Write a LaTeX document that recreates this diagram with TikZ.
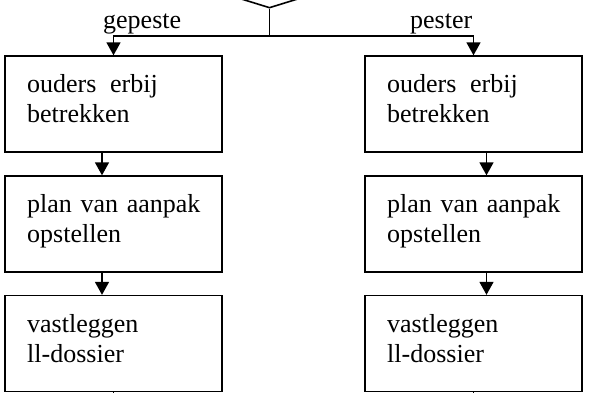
\documentclass[tikz,border=0pt]{standalone}
\usepackage{fontspec}
\setmainfont{Liberation Serif}
\usetikzlibrary{arrows.meta,shapes.geometric}
\begin{document}
\begin{tikzpicture}[x=1pt,y=-1pt,
  box/.style={draw,line width=1.4pt,minimum width=217pt,minimum height=96pt,inner sep=0pt},
  txt/.style={font=\fontsize{26}{30}\selectfont,text width=200pt,align=left,inner sep=0pt,anchor=base west},
  lbl/.style={font=\fontsize{26}{30}\selectfont,inner sep=0pt,anchor=base west},
  conn/.style={line width=1.6pt},
  arr/.style={line width=1.6pt,-{Triangle[width=14pt,length=13pt]}}]
\useasboundingbox (0,0) rectangle (589,392);
% decision shape (cropped at top)
\node[draw,diamond,line width=1.6pt,aspect=3.2,minimum width=180pt,minimum height=56pt,inner sep=0pt] (d) at (269.5,-20) {};
\coordinate (j) at (269.5,36);
% boxes
\node[box] (L1) at (113.5,104) {};
\node[box] (L2) at (113.5,224) {};
\node[box] (L3) at (113.5,343.5) {};
\node[box] (R1) at (473.5,104) {};
\node[box] (R2) at (473.5,224) {};
\node[box] (R3) at (473.5,343.5) {};
% texts
\node[txt] (tL1) at (27,92) {ouders\hspace{5pt} erbij\\betrekken};
\node[txt] (tL2) at (27,212) {plan van aanpak\\opstellen};
\node[txt] (tL3) at (27,332) {vastleggen\\ll-dossier};
\node[txt] (tR1) at (387,92) {ouders\hspace{5pt} erbij\\betrekken};
\node[txt] (tR2) at (387,212) {plan van aanpak\\opstellen};
\node[txt] (tR3) at (387,332) {vastleggen\\ll-dossier};
% labels
\node[lbl] (gp) at (103,28) {gepeste};
\node[lbl] (ps) at (410,28) {pester};
% connectors
\draw[conn] (d.south) -- (j);
\draw[arr] (j) -| (L1.north);
\draw[arr] (j) -| (R1.north);
\draw[arr] ([xshift=-11.5pt]L1.south) -- ([xshift=-11.5pt]L2.north);
\draw[arr] ([xshift=-11.5pt]L2.south) -- ([xshift=-11.5pt]L3.north);
\draw[arr] ([xshift=13pt]R1.south) -- ([xshift=13pt]R2.north);
\draw[arr] ([xshift=13pt]R2.south) -- ([xshift=13pt]R3.north);
\coordinate (eL) at ([yshift=-12pt]L3.south);
\coordinate (eR) at ([yshift=-12pt]R3.south);
\draw[conn] (L3.south) -- (eL);
\draw[conn] (R3.south) -- (eR);
\end{tikzpicture}
\end{document}
